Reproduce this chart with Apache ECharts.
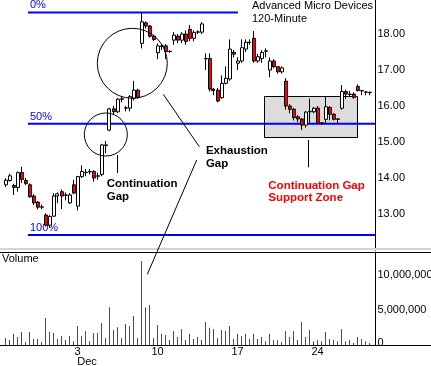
<!DOCTYPE html>
<html><head><meta charset="utf-8">
<script src="https://cdn.jsdelivr.net/npm/echarts@6/dist/echarts.min.js"></script>
<style>html,body{margin:0;padding:0;background:#fff}#c{width:431px;height:366px}</style>
</head><body><div id="c"></div>
<script>
// ---- DATA ----
const sessions = [['Nov 26',2],['Nov 27',4],['Nov 28',4],['Nov 29',4],['Nov 30',4],
  ['Dec 3',4],['Dec 4',4],['Dec 5',4],['Dec 6',4],['Dec 7',4],
  ['Dec 10',4],['Dec 11',4],['Dec 12',4],['Dec 13',4],['Dec 14',4],
  ['Dec 17',4],['Dec 18',4],['Dec 19',4],['Dec 20',4],['Dec 21',4],
  ['Dec 24',2],['Dec 26',4],['Dec 27',4],['Dec 28',4]];
const tickDays = ['Dec 3','Dec 10','Dec 17','Dec 24'];
const tickLabels = ['3','10','17','24'];
const tickMonth = 'Dec';

const opens  = [13.81,13.93,13.79,13.74,14.15,13.93,13.81,13.50,13.33,13.19,
  12.97,12.69,12.94,13.50,13.62,13.52,13.31,13.81,13.22,14.04,
  14.16,14.18,14.18,14.05,14.10,14.90,15.33,15.92,15.84,16.20,
  15.94,15.94,16.21,16.44,17.74,18.31,18.22,17.94,17.48,17.65,
  17.67,17.51,17.83,17.94,17.83,18.00,18.13,17.88,18.05,18.05,
  17.31,17.32,16.47,16.44,16.23,16.63,16.75,17.49,17.19,17.25,
  17.58,17.76,17.88,17.25,17.32,17.52,17.00,17.25,17.09,16.95,
  16.69,16.00,15.91,15.70,15.64,15.47,15.85,15.84,15.94,15.52,
  15.63,15.96,15.77,15.64,15.94,16.40,16.32,16.33,16.54,16.43,
  16.38,16.38];
const closes = [13.94,14.06,13.74,14.15,13.96,13.85,13.48,13.31,13.19,13.20,
  12.69,12.93,13.50,13.56,13.50,13.53,13.53,13.58,14.04,14.18,
  14.15,14.17,14.00,14.06,14.92,14.92,15.92,15.84,16.19,16.19,
  15.95,16.26,16.44,16.24,18.34,18.22,17.94,17.85,17.67,17.67,
  17.51,17.52,17.97,17.83,18.00,17.79,17.88,18.04,18.06,18.28,
  17.32,16.47,16.43,16.14,16.63,16.77,17.58,17.44,17.25,17.62,
  17.77,17.77,17.25,17.37,17.49,17.53,17.25,17.09,16.95,17.06,
  16.00,15.91,15.68,15.64,15.47,15.83,15.84,15.94,15.52,15.53,
  15.98,15.77,15.63,15.63,16.40,16.33,16.33,16.24,16.43,16.42,
  16.39,16.37];
const lows   = [13.75,13.90,13.53,13.62,13.86,13.80,13.45,13.25,13.13,13.13,
  12.65,12.62,12.92,13.30,13.14,13.38,13.28,13.55,13.10,14.00,
  14.05,14.10,13.90,13.95,14.05,14.69,15.30,15.75,15.80,16.10,
  15.85,15.85,16.15,16.20,17.60,18.15,17.90,17.80,17.30,17.55,
  17.30,17.48,17.70,17.75,17.75,17.70,17.80,17.80,18.00,18.00,
  17.00,16.40,16.30,16.10,16.20,16.60,16.70,17.35,17.00,17.20,
  17.50,17.70,17.20,17.20,17.20,17.35,16.80,17.05,16.90,16.90,
  15.90,15.80,15.60,15.55,15.33,15.40,15.52,15.80,15.50,15.48,
  15.50,15.60,15.60,15.50,15.90,16.20,16.25,16.20,16.40,16.30,
  16.30,16.30];
const highs  = [13.99,14.12,13.84,14.18,14.31,14.00,13.85,13.55,13.36,13.26,
  13.02,12.97,13.58,13.60,13.68,13.60,13.58,13.95,14.06,14.35,
  14.25,14.25,14.22,14.15,14.95,15.03,15.95,16.00,16.22,16.25,
  16.00,16.30,16.70,16.48,18.59,18.35,18.25,17.98,17.74,17.72,
  17.72,17.55,18.05,18.00,18.05,18.10,18.25,18.10,18.10,18.33,
  17.46,17.46,16.50,16.50,16.85,17.10,17.85,17.55,17.35,17.85,
  17.85,17.85,18.08,17.45,17.55,17.60,17.35,17.30,17.10,17.10,
  16.77,16.05,15.95,15.75,15.66,15.86,16.21,15.97,16.00,15.55,
  16.26,16.00,15.80,15.66,16.58,16.45,16.42,16.38,16.60,16.45,
  16.42,16.40];
// volume in millions of shares
const volumes = [1.0,0.7,1.6,1.15,1.85,0.45,1.85,0.85,0.85,0.45,
  3.85,1.85,1.7,0.85,1.3,0.7,1.3,0.55,2.7,1.3,
  2.0,0.55,1.7,1.7,3.15,1.0,5.4,2.15,2.55,1.0,
  3.0,2.7,4.15,1.0,12.0,5.4,5.7,1.0,2.85,1.6,
  1.45,0.7,2.0,1.15,2.3,0.7,1.6,0.85,1.15,0.7,
  3.3,2.45,2.3,1.0,2.15,2.0,2.7,0.85,1.6,1.3,
  1.6,0.85,1.6,0.85,1.15,0.55,1.6,0.7,0.7,0.45,
  2.0,1.15,2.0,0.7,3.3,1.15,2.15,0.55,0.7,0.55,
  1.85,0.85,0.7,0.55,2.3,0.55,0.7,0.3,1.15,0.85,
  0.55,0.3];
const fibHigh = 18.60, fibLow = 12.42;
const fibLevels = [0, 0.5, 1];
const fibNames = ['0%', '50%', '100%'];
const titleLines = ['Advanced Micro Devices', '120-Minute'];

// ---- BUILD ----
const FONT = "'Liberation Sans', Arial, sans-serif";
const categories = [];
sessions.forEach(([d, n]) => { for (let k = 1; k <= n; k++) categories.push(d + ' #' + k); });
categories.push(''); // spare slot at the right edge

const candleData = opens.map((o, i) => [o, closes[i], lows[i], highs[i]]);
const volData = volumes.map((v, i) => ({
  value: v * 1e6,
  itemStyle: { color: closes[i] >= opens[i] ? '#008000' : '#ff0000', borderWidth: 0 }
}));
const lastClose = closes[closes.length - 1];

function tickFor(val) {
  if (!val) return null;
  const parts = val.split(' #');
  if (parts[1] !== '1') return null;
  const k = tickDays.indexOf(parts[0]);
  return k < 0 ? null : k;
}

const chart = echarts.init(document.getElementById('c'), null, { renderer: 'canvas', width: 431, height: 366 });
const VOL_MAX = 13.29e6;
const option = {
  animation: false,
  textStyle: { fontFamily: FONT },
  title: [
    { text: titleLines.join('\n'), left: 252, top: 0, padding: 0,
      textStyle: { fontSize: 11, fontWeight: 'normal', color: '#000', fontFamily: FONT, lineHeight: 12.5 } },
    { text: 'Volume', left: 2, top: 253, padding: 0,
      textStyle: { fontSize: 11, fontWeight: 'normal', color: '#000', fontFamily: FONT } }
  ],
  grid: [
    { left: 3.5, width: 372, top: -2, height: 252, containLabel: false, outerBoundsMode: 'none' },
    { left: 3.5, width: 372, top: 252, height: 93, containLabel: false, outerBoundsMode: 'none' }
  ],
  xAxis: [
    { type: 'category', gridIndex: 0, data: categories, show: false, boundaryGap: true },
    { type: 'category', gridIndex: 1, data: categories, boundaryGap: true,
      axisLine: { show: false }, axisTick: { show: false },
      axisLabel: {
        interval: (idx, val) => tickFor(val) !== null,
        formatter: (val) => {
          const k = tickFor(val);
          if (k === null) return '';
          return k === 0 ? '{d|' + tickLabels[k] + '}\n{m|' + tickMonth + '}' : tickLabels[k];
        },
        color: '#000', fontSize: 11, fontFamily: FONT, margin: 2, lineHeight: 10,
        rich: { d: { fontSize: 11, lineHeight: 10, color: '#000', fontFamily: FONT },
                m: { fontSize: 11, lineHeight: 10, color: '#000', fontFamily: FONT, padding: [0, 0, 0, 19] } }
      }
    }
  ],
  yAxis: [
    { type: 'value', gridIndex: 0, position: 'right', min: 12, max: 19, interval: 1,
      axisLine: { show: true, lineStyle: { color: '#000', width: 1 } }, axisTick: { show: false },
      splitLine: { show: false },
      axisLabel: { color: '#000', fontSize: 11, fontFamily: FONT, margin: 2,
        formatter: v => (v <= 12 || v >= 19) ? '' : v.toFixed(2) } },
    { type: 'value', gridIndex: 1, position: 'right', min: 0, max: VOL_MAX, interval: 5e6,
      axisLine: { show: true, lineStyle: { color: '#000', width: 1 } }, axisTick: { show: false },
      splitLine: { show: false },
      axisLabel: { color: '#000', fontSize: 11, fontFamily: FONT, margin: 2,
        formatter: v => v === 0 ? '{z|0}' : ((v % 5e6 === 0) ? v.toLocaleString('en-US') : ''),
        rich: { z: { fontSize: 11, fontFamily: FONT, color: '#000', padding: [0, 0, 5, 0] } } } }
  ],
  series: [
    { type: 'candlestick', xAxisIndex: 0, yAxisIndex: 0, data: candleData, barWidth: 3.5,
      itemStyle: { color: '#ffffff', color0: '#ff0000', borderColor: '#000', borderColor0: '#000', borderWidth: 1 },
      emphasis: { disabled: true },
      markLine: { symbol: 'none', silent: true, animation: false,
        data: [{ yAxis: lastClose, lineStyle: { opacity: 0 },
          label: { show: true, position: 'end', distance: 1, formatter: lastClose.toFixed(2),
            color: '#fff', backgroundColor: '#000', padding: [2, 27, 1, 2], fontSize: 11,
            fontFamily: FONT, lineHeight: 11 } }] } },
    { type: 'bar', xAxisIndex: 1, yAxisIndex: 1, data: volData, barWidth: 1, emphasis: { disabled: true } }
  ]
};
chart.setOption(option);

// ---- ANNOTATIONS (anchored in data coordinates) ----
const X0 = chart.convertToPixel({ xAxisIndex: 0 }, 0);
const X1 = chart.convertToPixel({ xAxisIndex: 0 }, 1);
const step = X1 - X0;
const xAt = f => X0 + f * step;
const yP = p => chart.convertToPixel({ yAxisIndex: 0 }, p);
const yV = v => chart.convertToPixel({ yAxisIndex: 1 }, v);
const W = chart.getWidth();

const fibStart = [5.6, 5.6, 5.6];
const fibEnd = [58.1, categories.length - 0.5, categories.length - 0.5];

const g = [];
const zx1 = xAt(64.7), zx2 = xAt(87.95), zy1 = yP(16.27), zy2 = yP(15.13);
g.push({ type: 'rect', z: 0, shape: { x: Math.round(zx1) + 0.5, y: Math.round(zy1) + 0.5, width: Math.round(zx2 - zx1), height: Math.round(zy2 - zy1) },
  style: { fill: '#dcdcdc', stroke: '#000', lineWidth: 1 } });
fibLevels.forEach((lv, i) => {
  const y = yP(fibHigh - lv * (fibHigh - fibLow));
  g.push({ type: 'line', z: 1, shape: { x1: xAt(fibStart[i]), y1: y, x2: xAt(fibEnd[i]), y2: y },
    style: { stroke: '#0000ff', lineWidth: 2 } });
  g.push({ type: 'text', z: 1, style: { text: fibNames[i], x: xAt(fibStart[i]) + 2, y: y - 1.5,
    font: '11px ' + FONT, fill: '#0000ff', align: 'left', verticalAlign: 'bottom', textAlign: 'left', textVerticalAlign: 'bottom' } });
});
const vTop = yV(VOL_MAX), vBot = yV(0);
g.push({ type: 'rect', z: 5, shape: { x: 0, y: Math.round(vTop) - 4, width: W, height: 2 }, style: { fill: '#d4d4d4' } });
g.push({ type: 'line', z: 5, shape: { x1: 0, y1: Math.round(vTop) + 0.5, x2: W, y2: Math.round(vTop) + 0.5 }, style: { stroke: '#000', lineWidth: 1 } });
g.push({ type: 'line', z: 5, shape: { x1: 0, y1: Math.round(vBot) + 0.5, x2: W, y2: Math.round(vBot) + 0.5 }, style: { stroke: '#000', lineWidth: 1 } });
g.push({ type: 'circle', z: 10, shape: { cx: xAt(31.7), cy: yP(17.186), r: 35 }, style: { fill: 'none', stroke: '#000', lineWidth: 1 } });
g.push({ type: 'circle', z: 10, shape: { cx: xAt(25.08), cy: yP(15.208), r: 21.5 }, style: { fill: 'none', stroke: '#000', lineWidth: 1 } });
const ln = (x1, y1, x2, y2) => g.push({ type: 'line', z: 10, shape: { x1, y1, x2, y2 }, style: { stroke: '#000', lineWidth: 1 } });
ln(Math.round(xAt(27.8)) + 0.5, yP(14.639), Math.round(xAt(27.8)) + 0.5, yP(14.139));
ln(xAt(39.45), yP(16.325), xAt(48.45), yP(14.869));
ln(xAt(47.8), yP(14.5), xAt(35.45), yV(10.10e6));
ln(Math.round(xAt(75.7)) + 0.5, yP(15.056), Math.round(xAt(75.7)) + 0.5, yP(14.297));
const txt = (text, x, y, color, lh) => g.push({ type: 'text', z: 10, style: { text, x, y, fill: color,
  font: 'bold 11.5px ' + FONT, lineHeight: lh, align: 'left', verticalAlign: 'top', textAlign: 'left', textVerticalAlign: 'top' } });
txt('Continuation\nGap', xAt(25.3), yP(14.008), '#000', 13);
txt('Exhaustion\nGap', xAt(50.1), yP(14.933), '#000', 13);
txt('Continuation Gap\nSupport Zone', xAt(65.7), yP(13.961), '#ff0000', 12.5);

chart.setOption({ graphic: { elements: g } });
</script>
</body></html>
